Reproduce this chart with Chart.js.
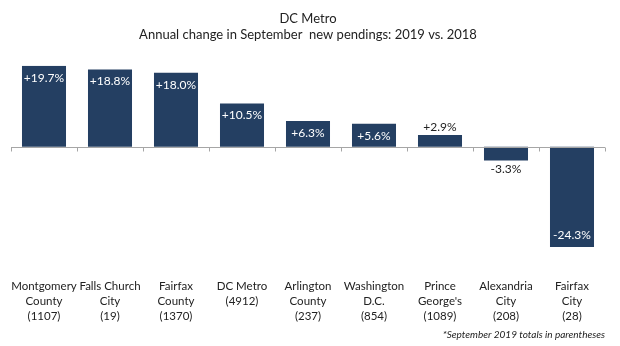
<!DOCTYPE html>
<html>
<head>
<meta charset="utf-8">
<script src="https://cdn.jsdelivr.net/npm/chart.js@4"></script>
<style>
  html, body { margin: 0; padding: 0; background: #fff; }
  #wrap { width: 620px; height: 346px; }
</style>
</head>
<body>
<div id="wrap"><canvas id="chart" width="620" height="346"></canvas></div>
<script>
// ====== Data ======
const areas = [
    ['Montgomery', 'County', '(1107)'],
    ['Falls Church', 'City', '(19)'],
    ['Fairfax', 'County', '(1370)'],
    ['DC Metro', '(4912)'],
    ['Arlington', 'County', '(237)'],
    ['Washington', 'D.C.', '(854)'],
    ['Prince', "George's", '(1089)'],
    ['Alexandria', 'City', '(208)'],
    ['Fairfax', 'City', '(28)']
];
const changePct = [19.7, 18.8, 18.0, 10.5, 6.3, 5.6, 2.9, -3.3, -24.3];

const FONT = 'Lato, "Open Sans", sans-serif';
const BAR_COLOR = '#243F62';

// ====== Plugins ======
// zero line with category tick marks
const zeroAxis = {
    id: 'zeroAxis',
    afterDatasetsDraw(chart) {
        const { ctx, scales: { x, y } } = chart;
        const y0 = Math.round(y.getPixelForValue(0)) + 0.5;
        const half = (x.getPixelForValue(1) - x.getPixelForValue(0)) / 2;
        ctx.save();
        ctx.strokeStyle = '#a6a6a6';
        ctx.lineWidth = 1;
        ctx.beginPath();
        ctx.moveTo(x.left, y0);
        ctx.lineTo(x.right, y0);
        for (let i = 0; i <= areas.length; i++) {
            const px = Math.round(x.getPixelForValue(i) - half) + 0.5;
            ctx.moveTo(px, y0);
            ctx.lineTo(px, y0 + 4);
        }
        ctx.stroke();
        ctx.restore();
    }
};

// value labels: inside the bar end when it fits, outside otherwise
const valueLabels = {
    id: 'valueLabels',
    afterDatasetsDraw(chart) {
        const { ctx } = chart;
        const meta = chart.getDatasetMeta(0);
        ctx.save();
        ctx.font = '12px ' + FONT;
        ctx.textAlign = 'center';
        ctx.textBaseline = 'middle';
        meta.data.forEach((bar, i) => {
            const v = changePct[i];
            const text = (v > 0 ? '+' : '') + v.toFixed(1) + '%';
            const inside = Math.abs(v) >= 5;
            let ty;
            if (v >= 0) ty = inside ? bar.y + 12 : bar.y - 8;
            else ty = inside ? bar.y - 12 : bar.y + 9;
            ctx.fillStyle = inside ? '#ffffff' : '#222222';
            ctx.fillText(text, bar.x, ty);
        });
        ctx.restore();
    }
};

// ====== Chart ======
new Chart(document.getElementById('chart'), {
    type: 'bar',
    data: {
        labels: areas,
        datasets: [{
            data: changePct,
            backgroundColor: BAR_COLOR,
            borderWidth: 0,
            categoryPercentage: 1,
            barPercentage: 0.667
        }]
    },
    options: {
        responsive: false,
        animation: false,
        layout: { padding: { left: 11, right: 15, top: 0, bottom: 0 } },
        plugins: {
            legend: { display: false },
            tooltip: { enabled: false },
            title: {
                display: true,
                text: ['DC Metro', 'Annual change in September  new pendings: 2019 vs. 2018'],
                color: '#222',
                font: { family: FONT, size: 13, weight: 'normal', lineHeight: '16px' },
                padding: { top: 11, bottom: 22.7 }
            },
            subtitle: {
                display: true,
                position: 'bottom',
                align: 'end',
                text: '*September 2019 totals in parentheses',
                color: '#222',
                font: { family: FONT, size: 10, style: 'italic', lineHeight: '12px' },
                padding: { top: 0, bottom: 5 }
            }
        },
        scales: {
            x: {
                grid: { display: false, drawTicks: false },
                border: { display: false },
                ticks: {
                    color: '#222',
                    font: { family: FONT, size: 11.5, lineHeight: '15px' },
                    padding: 32,
                    autoSkip: false,
                    maxRotation: 0
                },
                afterFit(scale) {
                    scale.height = 82;
                    scale.paddingLeft = 0;
                    scale.paddingRight = 0;
                }
            },
            y: {
                display: false,
                min: -24.3,
                max: 19.7
            }
        }
    },
    plugins: [zeroAxis, valueLabels]
});
</script>
</body>
</html>
